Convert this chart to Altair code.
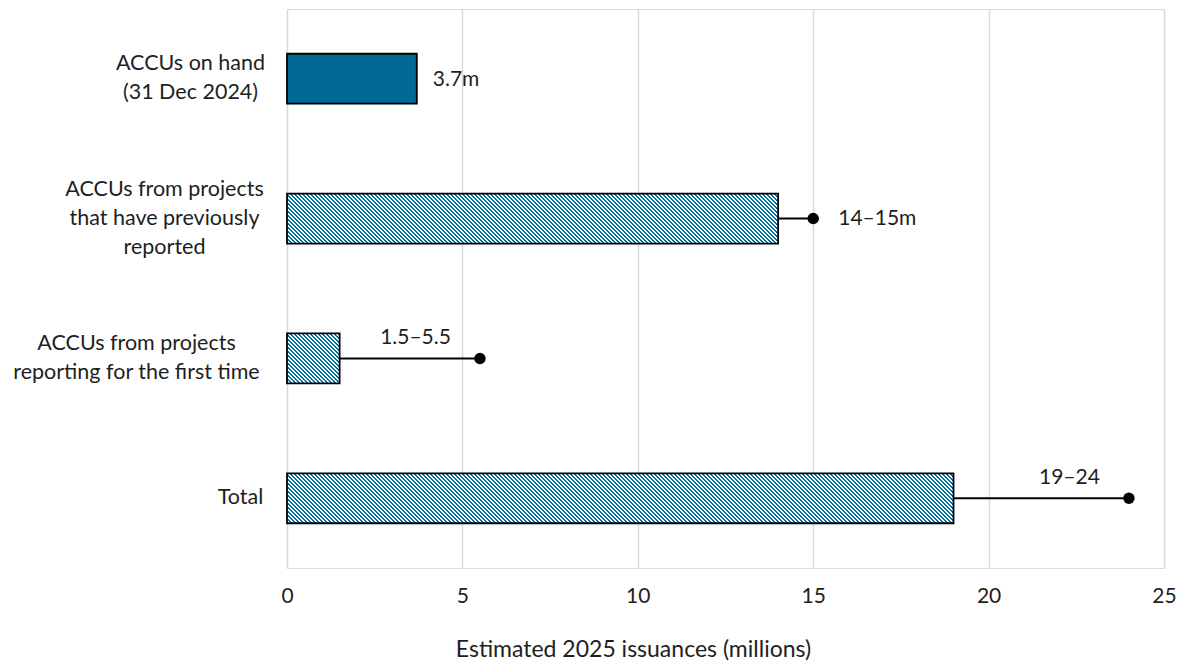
import math
import altair as alt
import pandas as pd

# Estimated 2025 ACCU issuances (millions)
categories = [
    "ACCUs on hand\n(31 Dec 2024)",
    "ACCUs from projects\nthat have previously\nreported",
    "ACCUs from projects\nreporting for the first time",
    "Total",
]
low_values = [3.7, 14.0, 1.5, 19.0]
high_values = [None, 15.0, 5.5, 24.0]
value_labels = ["3.7m", "14–15m", "1.5–5.5", "19–24"]

df = pd.DataFrame({
    "cat": categories,
    "low": low_values,
    "high": high_values,
    "label": value_labels,
})
df["end"] = df["high"].fillna(df["low"])

# plot geometry
PLOT_W = 877
PLOT_H = 559
X_MAX = 25
PAD_INNER = 0.643
PAD_OUTER = 0.32
step = PLOT_H / (len(categories) - PAD_INNER + 2 * PAD_OUTER)
bar_h = step * (1 - PAD_INNER)

TEAL = "#006A94"
STRIPE = "#006E9C"
TEXT = "#1e1e1e"
FONT = "Lato"
FS = 21.5
LINE_H = 29


def hatch(value, period=4.0, share=0.5):
    """Diagonal stripe fill built as a hard-stop linear gradient."""
    w = value * PLOT_W / X_MAX
    h = bar_h
    r = h / w
    s = (1 + r) / (1 + r * r)
    n = (w + h) / period
    stops = []
    k = 0
    while k / n < 1:
        a = k / n
        b = min((k + share) / n, 1)
        c = min((k + 1) / n, 1)
        stops += [
            alt.GradientStop(offset=a, color=STRIPE),
            alt.GradientStop(offset=b, color=STRIPE),
            alt.GradientStop(offset=b, color="white"),
            alt.GradientStop(offset=c, color="white"),
        ]
        k += 1
    return alt.LinearGradient(gradient="linear", stops=stops,
                              x1=0, y1=1, x2=s, y2=1 - s * r)


# centre each multi-line label block horizontally and vertically on its row
pad_cond = {
    "condition": [
        {"test": "indexof(datum.value, 'on hand') >= 0", "value": 97},
        {"test": "indexof(datum.value, 'previously') >= 0", "value": 123},
        {"test": "indexof(datum.value, 'first time') >= 0", "value": 151},
    ],
    "value": 47,
}
offset_cond = {
    "condition": [
        {"test": "indexof(datum.value, 'previously') >= 0", "value": -LINE_H},
        {"test": "indexof(datum.value, '\\n') >= 0", "value": -LINE_H / 2},
    ],
    "value": 0,
}

y_enc = alt.Y(
    "cat:N",
    sort=categories,
    scale=alt.Scale(paddingInner=PAD_INNER, paddingOuter=PAD_OUTER),
    axis=alt.Axis(
        title=None,
        labelExpr="split(datum.label, '\\n')",
        labelAlign="center",
        labelBaseline="middle",
        labelPadding=pad_cond,
        labelOffset=offset_cond,
        labelFontSize=FS,
        labelLineHeight=LINE_H,
        labelLimit=0,
        labelColor=TEXT,
        labelFont=FONT,
        ticks=False,
        domain=False,
        grid=False,
    ),
)

x_enc = alt.X(
    "low:Q",
    scale=alt.Scale(domain=[0, X_MAX], nice=False, zero=True),
    axis=alt.Axis(
        values=[0, 5, 10, 15, 20, 25],
        title="Estimated 2025 issuances (millions)",
        titleFontSize=23,
        titleFontWeight="normal",
        titleFont=FONT,
        titleColor=TEXT,
        titleX=346,
        titleAlign="center",
        titlePadding=32,
        labelFontSize=21,
        labelFont=FONT,
        labelColor=TEXT,
        labelPadding=17,
        labelFlush=False,
        grid=True,
        gridColor="#D9D9D9",
        gridWidth=1.5,
        domain=False,
        ticks=False,
    ),
)

base = alt.Chart(df)

solid = base.transform_filter(alt.datum.cat == categories[0]).mark_bar(
    color=TEAL, stroke="black", strokeWidth=1.8
).encode(x=x_enc, y=y_enc)

hatched = [
    base.transform_filter(alt.datum.cat == categories[i]).mark_bar(
        color=hatch(low_values[i]), stroke="black", strokeWidth=1.8
    ).encode(x="low:Q", y=alt.Y("cat:N", sort=categories))
    for i in (1, 2, 3)
]

ranges = base.transform_filter("isValid(datum.high)").mark_rule(
    color="black", strokeWidth=2
).encode(x="low:Q", x2="high:Q", y=alt.Y("cat:N", sort=categories))

dots = base.transform_filter("isValid(datum.high)").mark_circle(
    color="black", size=130, opacity=1
).encode(x="high:Q", y=alt.Y("cat:N", sort=categories))

text_style = dict(fontSize=21, font=FONT, color=TEXT, baseline="middle")

lab_bar = base.transform_filter(alt.datum.cat == categories[0]).mark_text(
    align="left", dx=16, dy=1, **text_style
).encode(x="end:Q", y=alt.Y("cat:N", sort=categories), text="label:N")

lab_dot = base.transform_filter(alt.datum.cat == categories[1]).mark_text(
    align="left", dx=25, **text_style
).encode(x="end:Q", y=alt.Y("cat:N", sort=categories), text="label:N")

lab_above = base.transform_filter(
    (alt.datum.cat == categories[2]) | (alt.datum.cat == categories[3])
).mark_text(align="right", dx=-29, dy=-20, **text_style).encode(
    x="end:Q", y=alt.Y("cat:N", sort=categories), text="label:N"
)

chart = alt.layer(
    solid, *hatched, ranges, dots, lab_bar, lab_dot, lab_above
).properties(
    width=PLOT_W,
    height=PLOT_H,
    autosize=alt.AutoSizeParams(type="none"),
    padding={"left": 287, "top": 9, "right": 24, "bottom": 101},
).configure_view(stroke=None).configure(background="white")

chart.save("out.html", embed_options={"renderer": "svg", "actions": False})
